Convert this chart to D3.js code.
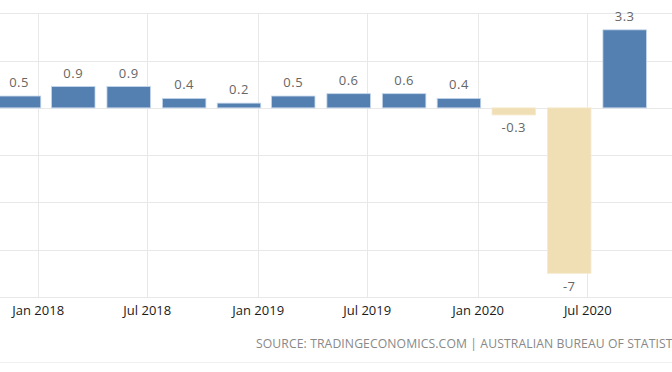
<!DOCTYPE html>
<html>
<head>
<meta charset="utf-8">
<script src="https://cdn.jsdelivr.net/npm/d3@7"></script>
<style>
  body { margin: 0; background: #fff; }
  svg { display: block; font-family: "Open Sans", sans-serif; }
</style>
</head>
<body>
<svg id="chart" width="672" height="372"></svg>
<script>
// quarterly GDP growth rate, bars sit on the 1st of the quarter's last month
const quarters = ["2017-12-01", "2018-03-01", "2018-06-01", "2018-09-01", "2018-12-01", "2019-03-01",
    "2019-06-01", "2019-09-01", "2019-12-01", "2020-03-01", "2020-06-01", "2020-09-01"]
const values = [0.5, 0.9, 0.9, 0.4, 0.2, 0.5, 0.6, 0.6, 0.4, -0.3, -7, 3.3]
const tickDates = ["2018-01-01", "2018-07-01", "2019-01-01", "2019-07-01", "2020-01-01", "2020-07-01"]
const yTicks = [4, 2, 0, -2, -4, -6, -8]
const source = "SOURCE: TRADINGECONOMICS.COM | AUSTRALIAN BUREAU OF STATISTICS"

const parse = d3.timeParse("%Y-%m-%d")
const fmt = d3.timeFormat("%b %Y")

const W = 672, H = 372
const barW = 43.5

const svg = d3.select("#chart")

var x = d3.scaleTime()
    .domain([parse("2018-01-01"), parse("2020-07-01")])
    .range([37.7, 587.3])

var y = d3.scaleLinear()
    .domain([-8, 4])
    .range([297, 13.3])

// horizontal grid
svg.append("g")
    .selectAll("line")
    .data(yTicks)
    .join("line")
    .attr("x1", 0)
    .attr("x2", W)
    .attr("y1", d => Math.round(y(d)) + .5)
    .attr("y2", d => Math.round(y(d)) + .5)
    .style("stroke", "#e8e8e8")
    .style("stroke-width", 1)

// vertical grid
svg.append("g")
    .selectAll("line")
    .data(tickDates)
    .join("line")
    .attr("x1", d => Math.round(x(parse(d))) + .5)
    .attr("x2", d => Math.round(x(parse(d))) + .5)
    .attr("y1", y(4))
    .attr("y2", y(-8))
    .style("stroke", "#e8e8e8")
    .style("stroke-width", 1)

// x axis labels
var xAxis = d3.axisBottom(x)
    .tickValues(tickDates.map(parse))
    .tickFormat(fmt)
    .tickSize(0)
    .tickPadding(9)

var gx = svg.append("g")
    .attr("transform", "translate(0," + y(-8) + ")")
    .call(xAxis)
gx.select(".domain").remove()
gx.selectAll("text")
    .style("font-family", "Open Sans")
    .style("font-size", "13px")
    .style("fill", "#1a1a1a")

// bars
const data = quarters.map((q, i) => ({ date: parse(q), value: values[i] }))

svg.append("g")
    .selectAll("rect")
    .data(data)
    .join("rect")
    .attr("x", d => x(d.date) - barW / 2)
    .attr("width", barW)
    .attr("y", d => y(Math.max(0, d.value)))
    .attr("height", d => Math.abs(y(d.value) - y(0)))
    .style("fill", d => d.value >= 0 ? "#5480b1" : "#f0dfb5")
    .style("stroke", d => d.value >= 0 ? "#c3d5ea" : "#f6ead0")
    .style("stroke-width", 0.8)

// value labels
svg.append("g")
    .selectAll("text")
    .data(data)
    .join("text")
    .attr("x", d => x(d.date))
    .attr("y", d => d.value >= 0 ? y(d.value) - 9 : y(d.value) + 17.5)
    .style("text-anchor", "middle")
    .style("font-size", "13px")
    .style("letter-spacing", "0.5px")
    .style("fill", "#666")
    .text(d => d.value)

// source line (runs off the right edge, as in the original crop)
svg.append("text")
    .attr("x", 256)
    .attr("y", 347.7)
    .style("font-size", "12.2px")
    .style("letter-spacing", "0.1px")
    .style("fill", "#888")
    .text(source)

svg.append("line")
    .attr("x1", 0)
    .attr("x2", W)
    .attr("y1", 362.5)
    .attr("y2", 362.5)
    .style("stroke", "#f0f0f0")
</script>
</body>
</html>
